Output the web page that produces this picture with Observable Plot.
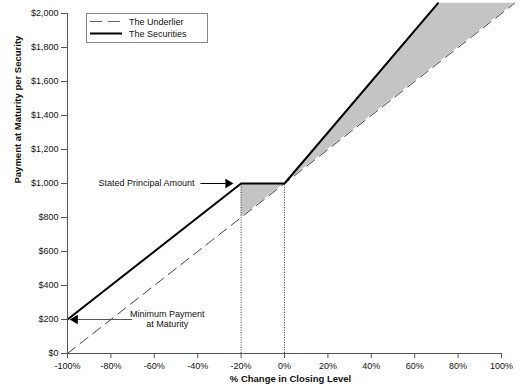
<!DOCTYPE html>
<html>
<head>
<meta charset="utf-8">
<script src="https://cdn.jsdelivr.net/npm/d3@7"></script>
<script src="https://cdn.jsdelivr.net/npm/@observablehq/plot@0.6"></script>
<style>
  body { margin: 0; background: #fff; }
  #chart svg { font-family: "Liberation Sans", Arial, sans-serif; }
</style>
</head>
<body>
<div id="chart"></div>
<script>
// ---- data ----
const xTicks = [-100, -80, -60, -40, -20, 0, 20, 40, 60, 80, 100];
const yTicks = [0, 200, 400, 600, 800, 1000, 1200, 1400, 1600, 1800, 2000];

const underlierX = [-100, 106];
const underlierY = [0, 2060];

const securitiesX = [-100, -20, 0, 70.67];
const securitiesY = [200, 1000, 1000, 2060];

const shadeX = [-20, 0, 70.67, 106];
const shadeLow = [800, 1000, 1706.7, 2060];
const shadeHigh = [1000, 1000, 2060, 2060];

const guideX = [-20, 0];
const guideTop = [1000, 1000];

const legendLabels = ["The Underlier", "The Securities"];
const xLabel = "% Change in Closing Level";
const yLabel = "Payment at Maturity per Security";
const principalLabel = "Stated Principal Amount";
const minimumLabel = "Minimum Payment\nat Maturity";

const underlier = underlierX.map((x, i) => ({x, y: underlierY[i]}));
const securities = securitiesX.map((x, i) => ({x, y: securitiesY[i]}));
const shade = shadeX.map((x, i) => ({x, lo: shadeLow[i], hi: shadeHigh[i]}));
const guides = guideX.map((x, i) => ({x, top: guideTop[i]}));

const fmtDollar = d3.format("$,");

const plot = Plot.plot({
  width: 523,
  height: 392,
  marginLeft: 67,
  marginRight: 22,
  marginTop: 13,
  marginBottom: 39,
  x: {domain: [-100, 100]},
  y: {domain: [0, 2000]},
  style: {fontFamily: "Liberation Sans, Arial, sans-serif", fontSize: "9px", background: "white", color: "#111"},
  marks: [
    Plot.areaY(shade, {x: "x", y1: "lo", y2: "hi", fill: "#c4c4c4"}),
    Plot.ruleX(guides, {x: "x", y1: 0, y2: "top", stroke: "#444", strokeWidth: 1, strokeDasharray: "1,1.5"}),
    Plot.line(underlier, {x: "x", y: "y", stroke: "#444", strokeWidth: 1, strokeDasharray: "10,6"}),
    Plot.line(securities, {x: "x", y: "y", stroke: "#000", strokeWidth: 2}),
    // axes
    Plot.ruleY([0], {stroke: "#555", strokeWidth: 1}),
    Plot.ruleX([-100], {stroke: "#555", strokeWidth: 1}),
    Plot.axisX({ticks: xTicks, tickFormat: d => d + "%", tickSize: 5, tickPadding: 4, label: null, stroke: "#555"}),
    Plot.axisY({ticks: yTicks, tickFormat: fmtDollar, tickSize: 6, tickPadding: 3, label: null, stroke: "#555"}),
    Plot.text([xLabel], {frameAnchor: "bottom", dx: 6, dy: 28, fontWeight: "bold", fontSize: 9.5}),
    Plot.text([yLabel], {frameAnchor: "left", dx: -50, rotate: -90, fontWeight: "bold", fontSize: 9.5}),
    // annotations
    Plot.text([principalLabel], {x: -41.5, y: 1000, textAnchor: "end", fontSize: 9}),
    Plot.ruleY([1000], {x1: -38.5, x2: -27, stroke: "#000", strokeWidth: 1}),
    Plot.dot([{x: -26, y: 1000}], {x: "x", y: "y", symbol: "triangle", r: 3.5, rotate: 90, fill: "#000", stroke: null}),
    Plot.text([minimumLabel], {x: -54, y: 206, textAnchor: "middle", lineAnchor: "middle", lineHeight: 1.15, fontSize: 9}),
    Plot.ruleY([200], {x1: -70, x2: -96, stroke: "#555", strokeWidth: 1}),
    Plot.dot([{x: -96.5, y: 200}], {x: "x", y: "y", symbol: "triangle", r: 3.5, rotate: -90, fill: "#000", stroke: null})
  ]
});

// legend (decoration drawn in pixel space)
const svg = d3.select(plot);
const g = svg.append("g").attr("text-anchor", "start");
g.append("rect").attr("x", 86.5).attr("y", 13.5).attr("width", 121).attr("height", 29)
  .attr("fill", "#fff").attr("stroke", "#888").attr("stroke-width", 1);
g.append("line").attr("x1", 90).attr("x2", 120).attr("y1", 21.5).attr("y2", 21.5)
  .attr("stroke", "#666").attr("stroke-width", 1).attr("stroke-dasharray", "12,6");
g.append("line").attr("x1", 90).attr("x2", 122).attr("y1", 33.5).attr("y2", 33.5)
  .attr("stroke", "#000").attr("stroke-width", 2);
g.selectAll("text.leg").data(legendLabels).join("text")
  .attr("class", "leg")
  .attr("x", 129).attr("y", (d, i) => 22 + i * 12)
  .attr("dy", "0.35em").attr("font-size", 9).attr("fill", "#111")
  .attr("text-anchor", "start")
  .text(d => d);

document.getElementById("chart").appendChild(plot);
</script>
</body>
</html>
